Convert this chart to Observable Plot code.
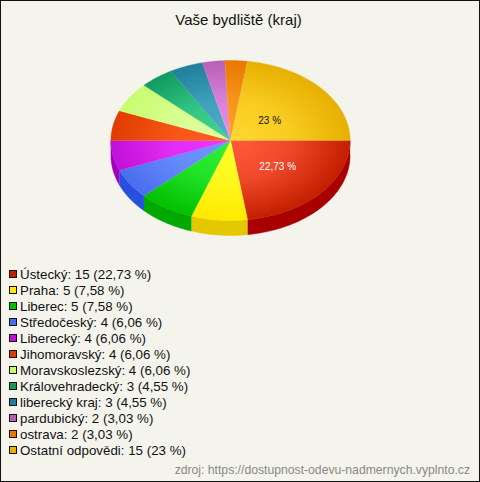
<!DOCTYPE html>
<html lang="cs">
<head>
<meta charset="utf-8">
<script src="https://cdn.jsdelivr.net/npm/d3@7"></script>
<script src="https://cdn.jsdelivr.net/npm/@observablehq/plot@0.6"></script>
<style>
html,body{margin:0;padding:0;background:#f4f4ec}
#frame{box-sizing:border-box;width:480px;height:482px;border:1px solid #111;background:#f4f4ec;font-family:"Liberation Sans",Arial,sans-serif;color:#111;overflow:hidden}
#title{height:39px;line-height:37px;text-align:center;font-size:15px;padding-right:3px}
#legend{margin-top:7px;font-size:13.33px;line-height:16px}
.row{height:16px;white-space:nowrap;padding-left:19px;position:relative}
.sw{position:absolute;left:8px;top:3px;width:6px;height:6px;border:1px solid #111}
#src{margin-top:3px;font-size:12.2px;line-height:16px;color:#888;text-align:right;padding-right:9px}
svg{display:block}
</style>
</head>
<body>
<div id="frame">
  <div id="title">Vaše bydliště (kraj)</div>
  <div id="plot"></div>
  <div id="legend"></div>
  <div id="src">zdroj: https://dostupnost-odevu-nadmernych.vyplnto.cz</div>
</div>
<script>
const categories = ["Ústecký","Praha","Liberec","Středočeský","Liberecký","Jihomoravský","Moravskoslezský","Královehradecký","liberecký kraj","pardubický","ostrava","Ostatní odpovědi"];
const counts = [15,5,5,4,4,4,4,3,3,2,2,15];
const percents = ["22,73","7,58","7,58","6,06","6,06","6,06","6,06","4,55","4,55","3,03","3,03","23"];
const edgeColors = ["#c41e00","#ffe900","#00c000","#4a6cf0","#c010d8","#e03c00","#c8fc70","#109a60","#1f7f9a","#b860b8","#e87800","#e6b000"];
const centerColors = ["#ff5c3c","#ffff2c","#30f038","#7098ff","#f038ff","#ff6020","#e0ffa0","#40d890","#50b0c8","#e890e8","#ffa028","#ffd830"];
const sideColors = ["#a80000","#e3c800","#00a800","#2850e0","#a000c0"];

const total = d3.sum(counts);
const ends = d3.cumsum(counts).map(c => c / total * 2 * Math.PI);
const starts = [0, ...ends.slice(0, -1)];
const depth = 0.1875;

function arc(a0, a1) {
  const n = Math.max(2, Math.ceil((a1 - a0) / 0.01));
  return d3.range(n + 1).map(i => a0 + (a1 - a0) * i / n);
}
const topPoints = i => [{x: 0, y: 0}, ...arc(starts[i], ends[i]).map(a => ({x: Math.cos(a), y: Math.sin(a)}))];
const sidePoints = i => {
  const as = arc(starts[i], Math.min(ends[i], Math.PI));
  return [...as.map(a => ({x: Math.cos(a), y: Math.sin(a)})), ...as.reverse().map(a => ({x: Math.cos(a), y: Math.sin(a) + depth}))];
};
const frontSlices = categories.map((_, i) => i).filter(i => starts[i] < Math.PI - 1e-6);

const gradients = (index, scales) => {
  const ns = "http://www.w3.org/2000/svg";
  const defs = document.createElementNS(ns, "defs");
  categories.forEach((_, i) => {
    const g = document.createElementNS(ns, "radialGradient");
    g.setAttribute("id", "g" + i);
    g.setAttribute("gradientUnits", "userSpaceOnUse");
    const rx = scales.x(1) - scales.x(0), ry = scales.y(1) - scales.y(0);
    g.setAttribute("gradientTransform", `translate(${scales.x(0)},${scales.y(0)}) scale(${rx},${ry})`);
    g.setAttribute("cx", 0); g.setAttribute("cy", 0); g.setAttribute("r", 1);
    const mid = d3.interpolateRgb(centerColors[i], edgeColors[i])(0.3);
    [[0, centerColors[i]], [0.5, mid], [1, edgeColors[i]]].forEach(([o, c]) => {
      const s = document.createElementNS(ns, "stop");
      s.setAttribute("offset", o); s.setAttribute("stop-color", c);
      g.appendChild(s);
    });
    defs.appendChild(g);
  });
  return defs;
};

const midAngle = i => (starts[i] + ends[i]) / 2;
const labelAt = i => [{x: 0.5 * Math.cos(midAngle(i)), y: 0.5 * Math.sin(midAngle(i)), t: percents[i] + " %"}];
const last = categories.length - 1;

const chart = Plot.plot({
  width: 478, height: 220,
  margin: 0,
  style: {background: "transparent"},
  x: {domain: [-229 / 119.6, 249 / 119.6], range: [0, 478], axis: null},
  y: {domain: [-1.25, 1.5], range: [0, 220], axis: null},
  marks: [
    gradients,
    ...frontSlices.map(i => Plot.line(sidePoints(i), {x: "x", y: "y", fill: sideColors[i], stroke: sideColors[i], strokeWidth: 0.4})),
    ...categories.map((_, i) => Plot.line(topPoints(i), {x: "x", y: "y", fill: `url(#g${i})`, stroke: `url(#g${i})`, strokeWidth: 0.4})),
    Plot.text(labelAt(0), {x: "x", y: "y", text: "t", fill: "#fff", fontSize: 10, dx: 2, fontFamily: "Liberation Sans"}),
    Plot.text(labelAt(last), {x: "x", y: "y", text: "t", fill: "#111", fontSize: 10, dx: -6, dy: 6, fontFamily: "Liberation Sans"})
  ]
});
document.getElementById("plot").appendChild(chart);

const legend = document.getElementById("legend");
categories.forEach((c, i) => {
  const row = document.createElement("div");
  row.className = "row";
  const sw = document.createElement("span");
  sw.className = "sw";
  sw.style.background = edgeColors[i];
  row.appendChild(sw);
  row.appendChild(document.createTextNode(`${c}: ${counts[i]} (${percents[i]} %)`));
  legend.appendChild(row);
});
</script>
</body>
</html>
